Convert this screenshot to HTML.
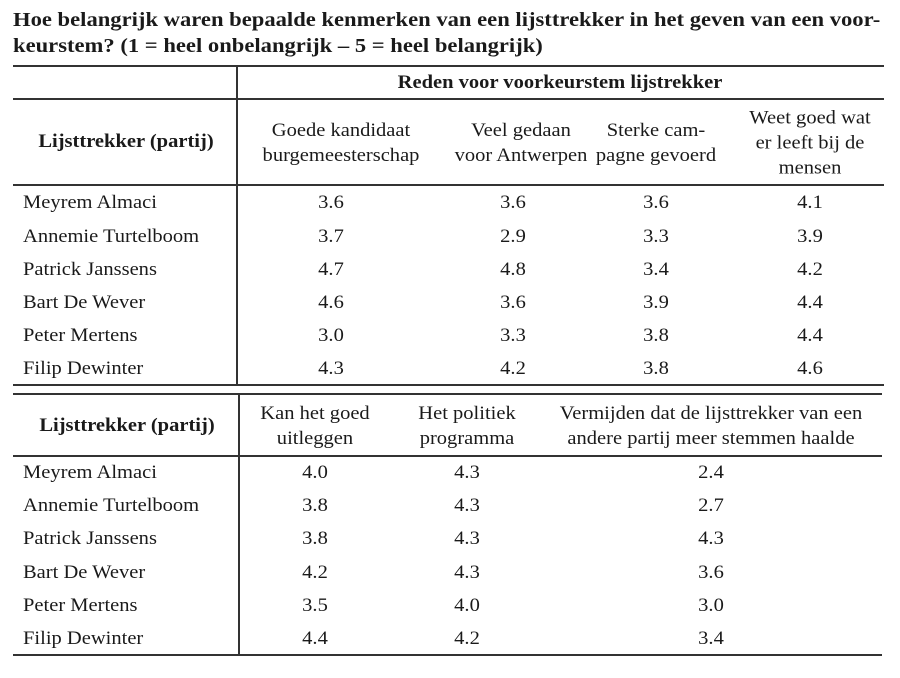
<!DOCTYPE html>
<html><head><meta charset="utf-8"><style>
body{margin:0;width:900px;height:678px;background:#fff;position:relative;font-family:"Liberation Serif",serif;color:#1a1a1a;overflow:hidden}
.t{position:absolute;white-space:nowrap;font-size:19px;line-height:22px;transform:translate(-50%,-50%) scaleX(1.08);text-align:center}
.t.m{line-height:25px}
.l{position:absolute;white-space:nowrap;font-size:19px;line-height:22px;transform:translateY(-50%) scaleX(1.08);transform-origin:left center}
.b{font-weight:bold}
.h{position:absolute;height:1.5px;background:#333}
.v{position:absolute;width:1.5px;background:#333}
</style></head><body>
<div style="position:absolute;left:13px;top:7px;font-size:20px;line-height:26px;font-weight:bold;white-space:nowrap;transform:scaleX(1.13);transform-origin:left top">Hoe belangrijk waren bepaalde kenmerken van een lijsttrekker in het geven van een voor-<br>keurstem? (1 = heel onbelangrijk – 5 = heel belangrijk)</div>

<div class="h" style="left:13px;width:871px;top:65px"></div>
<div class="h" style="left:13px;width:871px;top:98px"></div>
<div class="h" style="left:13px;width:871px;top:184px"></div>
<div class="h" style="left:13px;width:871px;top:384px"></div>
<div class="v" style="left:236px;top:65px;height:320px"></div>

<div class="t b" style="left:560px;top:83px">Reden voor voorkeurstem lijstrekker</div>
<div class="t b" style="left:126px;top:142px">Lijsttrekker (partij)</div>
<div class="t m" style="left:341px;top:143px">Goede kandidaat<br>burgemeesterschap</div>
<div class="t m" style="left:521px;top:143px">Veel gedaan<br>voor Antwerpen</div>
<div class="t m" style="left:656px;top:143px">Sterke cam-<br>pagne gevoerd</div>
<div class="t m" style="left:810px;top:143px">Weet goed wat<br>er leeft bij de<br>mensen</div>

<div class="l" style="left:23px;top:203px">Meyrem Almaci</div>
<div class="l" style="left:23px;top:237px">Annemie Turtelboom</div>
<div class="l" style="left:23px;top:270px">Patrick Janssens</div>
<div class="l" style="left:23px;top:303px">Bart De Wever</div>
<div class="l" style="left:23px;top:336px">Peter Mertens</div>
<div class="l" style="left:23px;top:369px">Filip Dewinter</div>

<div class="t" style="left:331px;top:203px">3.6</div><div class="t" style="left:513px;top:203px">3.6</div><div class="t" style="left:656px;top:203px">3.6</div><div class="t" style="left:810px;top:203px">4.1</div>
<div class="t" style="left:331px;top:237px">3.7</div><div class="t" style="left:513px;top:237px">2.9</div><div class="t" style="left:656px;top:237px">3.3</div><div class="t" style="left:810px;top:237px">3.9</div>
<div class="t" style="left:331px;top:270px">4.7</div><div class="t" style="left:513px;top:270px">4.8</div><div class="t" style="left:656px;top:270px">3.4</div><div class="t" style="left:810px;top:270px">4.2</div>
<div class="t" style="left:331px;top:303px">4.6</div><div class="t" style="left:513px;top:303px">3.6</div><div class="t" style="left:656px;top:303px">3.9</div><div class="t" style="left:810px;top:303px">4.4</div>
<div class="t" style="left:331px;top:336px">3.0</div><div class="t" style="left:513px;top:336px">3.3</div><div class="t" style="left:656px;top:336px">3.8</div><div class="t" style="left:810px;top:336px">4.4</div>
<div class="t" style="left:331px;top:369px">4.3</div><div class="t" style="left:513px;top:369px">4.2</div><div class="t" style="left:656px;top:369px">3.8</div><div class="t" style="left:810px;top:369px">4.6</div>

<div class="h" style="left:13px;width:869px;top:393px"></div>
<div class="h" style="left:13px;width:869px;top:455px"></div>
<div class="h" style="left:13px;width:869px;top:654px"></div>
<div class="v" style="left:238px;top:393px;height:262px"></div>

<div class="t b" style="left:127px;top:426px">Lijsttrekker (partij)</div>
<div class="t m" style="left:315px;top:426px">Kan het goed<br>uitleggen</div>
<div class="t m" style="left:467px;top:426px">Het politiek<br>programma</div>
<div class="t m" style="left:711px;top:426px">Vermijden dat de lijsttrekker van een<br>andere partij meer stemmen haalde</div>

<div class="l" style="left:23px;top:473px">Meyrem Almaci</div>
<div class="l" style="left:23px;top:506px">Annemie Turtelboom</div>
<div class="l" style="left:23px;top:539px">Patrick Janssens</div>
<div class="l" style="left:23px;top:573px">Bart De Wever</div>
<div class="l" style="left:23px;top:606px">Peter Mertens</div>
<div class="l" style="left:23px;top:639px">Filip Dewinter</div>

<div class="t" style="left:315px;top:473px">4.0</div><div class="t" style="left:467px;top:473px">4.3</div><div class="t" style="left:711px;top:473px">2.4</div>
<div class="t" style="left:315px;top:506px">3.8</div><div class="t" style="left:467px;top:506px">4.3</div><div class="t" style="left:711px;top:506px">2.7</div>
<div class="t" style="left:315px;top:539px">3.8</div><div class="t" style="left:467px;top:539px">4.3</div><div class="t" style="left:711px;top:539px">4.3</div>
<div class="t" style="left:315px;top:573px">4.2</div><div class="t" style="left:467px;top:573px">4.3</div><div class="t" style="left:711px;top:573px">3.6</div>
<div class="t" style="left:315px;top:606px">3.5</div><div class="t" style="left:467px;top:606px">4.0</div><div class="t" style="left:711px;top:606px">3.0</div>
<div class="t" style="left:315px;top:639px">4.4</div><div class="t" style="left:467px;top:639px">4.2</div><div class="t" style="left:711px;top:639px">3.4</div>
</body></html>
